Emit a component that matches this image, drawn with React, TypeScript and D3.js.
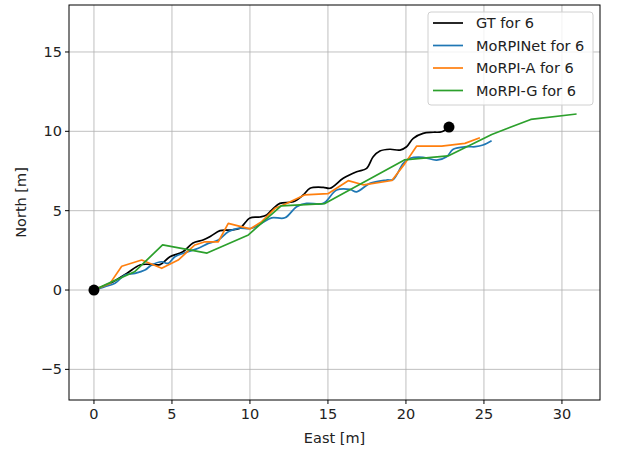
import React from 'react';
import * as d3 from 'd3';

type Pt = [number, number];

// trajectories (east, north in metres)
const gt: Pt[] = [
  [0, 0], [1.03, 0.42], [2.1, 1.05], [2.95, 1.58], [3.6, 1.62], [4.23, 1.6], [4.87, 2.1],
  [5.7, 2.41], [6.35, 2.96], [6.99, 3.15], [7.5, 3.4], [8.08, 3.74], [8.72, 3.78],
  [9.36, 3.9], [10.0, 4.54], [10.64, 4.6], [11.07, 4.73], [11.5, 5.15], [11.92, 5.46],
  [12.78, 5.56], [13.42, 5.99], [13.85, 6.41], [14.7, 6.47], [15.13, 6.41], [15.98, 7.04],
  [16.84, 7.45], [17.48, 7.67], [17.9, 8.4], [18.33, 8.76], [18.97, 8.87], [19.62, 8.82],
  [20.04, 9.03], [20.47, 9.56], [21.1, 9.87], [21.75, 9.94], [22.29, 9.97], [22.76, 10.27],
];

const morpiNet: Pt[] = [
  [0, 0], [0.7, 0.21], [1.35, 0.42], [1.99, 0.95], [2.63, 1.05], [3.27, 1.26], [3.7, 1.58],
  [4.34, 1.78], [4.76, 1.68], [5.19, 2.1], [5.83, 2.35], [6.69, 2.63], [7.33, 2.94],
  [7.97, 3.15], [8.61, 3.67], [9.25, 3.89], [10.1, 3.89], [10.75, 4.2], [11.39, 4.55],
  [12.24, 4.55], [12.99, 5.25], [13.63, 5.46], [14.7, 5.46], [15.56, 6.3], [16.41, 6.34],
  [16.84, 6.19], [17.69, 6.72], [18.76, 6.93], [19.19, 6.97], [19.83, 7.98], [20.26, 8.3],
  [21.1, 8.36], [21.97, 8.19], [22.61, 8.4], [23.03, 8.87], [23.89, 9.03], [24.45, 9.03],
  [24.94, 9.14], [25.49, 9.41],
];

const morpiA: Pt[] = [
  [0, 0], [1.03, 0.42], [1.78, 1.5], [3.06, 1.89], [4.34, 1.37], [5.4, 1.89], [6.47, 2.84],
  [7.12, 3.04], [7.97, 3.04], [8.61, 4.2], [10.0, 3.85], [10.75, 4.31], [11.6, 5.15],
  [12.24, 5.4], [13.5, 5.99], [15.0, 6.07], [16.3, 6.89], [17.3, 6.62], [19.1, 6.9],
  [19.94, 7.98], [20.69, 9.07], [22.29, 9.07], [23.78, 9.24], [24.74, 9.6],
];

const morpiG: Pt[] = [
  [0, 0], [1.0, 0.45], [2.6, 1.15], [4.4, 2.84], [7.25, 2.33], [9.9, 3.47], [12.0, 5.3],
  [14.8, 5.45], [19.9, 8.2], [22.7, 8.45], [25.5, 9.8], [28.0, 10.75], [30.94, 11.09],
];

const seriesNames = ['GT for 6', 'MoRPINet for 6', 'MoRPI-A for 6', 'MoRPI-G for 6'];
const seriesColors = ['#000000', '#1f77b4', '#ff7f0e', '#2ca02c'];
const seriesSmooth = [true, true, false, false];
const xTicks = [0, 5, 10, 15, 20, 25, 30];
const yTicks = [-5, 0, 5, 10, 15];

const W = 620, H = 450;
const plot = { left: 69, right: 600, top: 5, bottom: 400 };
const font = '"DejaVu Sans", sans-serif';
const fs = 14.5;

export default function App() {
  const x = d3.scaleLinear().domain([-1.6, 32.44]).range([plot.left, plot.right]);
  const y = d3.scaleLinear().domain([-6.93, 17.96]).range([plot.bottom, plot.top]);
  const straight = d3.line<Pt>().x((d) => x(d[0])).y((d) => y(d[1]));
  const smooth = d3.line<Pt>().x((d) => x(d[0])).y((d) => y(d[1])).curve(d3.curveCatmullRom.alpha(0.5));
  const series = [gt, morpiNet, morpiA, morpiG];
  const start = gt[0];
  const end = gt[gt.length - 1];
  const fmt = (t: number) => (t < 0 ? '\u2212' + Math.abs(t) : String(t));

  return (
    <svg width={W} height={H} style={{ position: 'absolute', left: 0, top: 0, background: '#fff' }}>
      <defs>
        <clipPath id="clip">
          <rect x={plot.left} y={plot.top} width={plot.right - plot.left} height={plot.bottom - plot.top} />
        </clipPath>
      </defs>

      {/* GRID */}
      {xTicks.map((t) => (
        <line key={'gx' + t} x1={x(t)} x2={x(t)} y1={plot.top} y2={plot.bottom} stroke="#b0b0b0" strokeWidth={0.8} />
      ))}
      {yTicks.map((t) => (
        <line key={'gy' + t} x1={plot.left} x2={plot.right} y1={y(t)} y2={y(t)} stroke="#b0b0b0" strokeWidth={0.8} />
      ))}

      {/* LINES */}
      <g clipPath="url(#clip)">
        {series.map((s, i) => (
          <path
            key={i}
            d={(seriesSmooth[i] ? smooth(s) : straight(s)) || ''}
            fill="none"
            stroke={seriesColors[i]}
            strokeWidth={1.7}
            strokeLinejoin="round"
          />
        ))}
        <circle cx={x(start[0])} cy={y(start[1])} r={5.5} fill="#000" />
        <circle cx={x(end[0])} cy={y(end[1])} r={5.5} fill="#000" />
      </g>

      {/* FRAME */}
      <rect x={plot.left} y={plot.top} width={plot.right - plot.left} height={plot.bottom - plot.top} fill="none" stroke="#000" strokeWidth={1} />

      {/* AXES */}
      {xTicks.map((t) => (
        <g key={'tx' + t}>
          <line x1={x(t)} x2={x(t)} y1={plot.bottom} y2={plot.bottom + 4} stroke="#000" />
          <text x={x(t)} y={plot.bottom + 19} textAnchor="middle" fontSize={fs} fontFamily={font} fill="#222">
            {fmt(t)}
          </text>
        </g>
      ))}
      {yTicks.map((t) => (
        <g key={'ty' + t}>
          <line x1={plot.left - 4} x2={plot.left} y1={y(t)} y2={y(t)} stroke="#000" />
          <text x={plot.left - 7} y={y(t) + 5} textAnchor="end" fontSize={fs} fontFamily={font} fill="#222">
            {fmt(t)}
          </text>
        </g>
      ))}
      <text x={(plot.left + plot.right) / 2} y={443} textAnchor="middle" fontSize={fs} fontFamily={font} fill="#222">
        East [m]
      </text>
      <text transform={`translate(26,${(plot.top + plot.bottom) / 2}) rotate(-90)`} textAnchor="middle" fontSize={fs} fontFamily={font} fill="#222">
        North [m]
      </text>

      {/* LEGEND */}
      <rect x={428} y={12} width={165} height={93} rx={3} fill="#fff" fillOpacity={0.8} stroke="#d0d0d0" />
      {seriesNames.map((n, i) => (
        <g key={n} transform={`translate(0,${23 + i * 22.5})`}>
          <line x1={433} x2={463} y1={0} y2={0} stroke={seriesColors[i]} strokeWidth={1.7} />
          <text x={476} y={5} fontSize={fs} fontFamily={font} fill="#222">{n}</text>
        </g>
      ))}
    </svg>
  );
}
